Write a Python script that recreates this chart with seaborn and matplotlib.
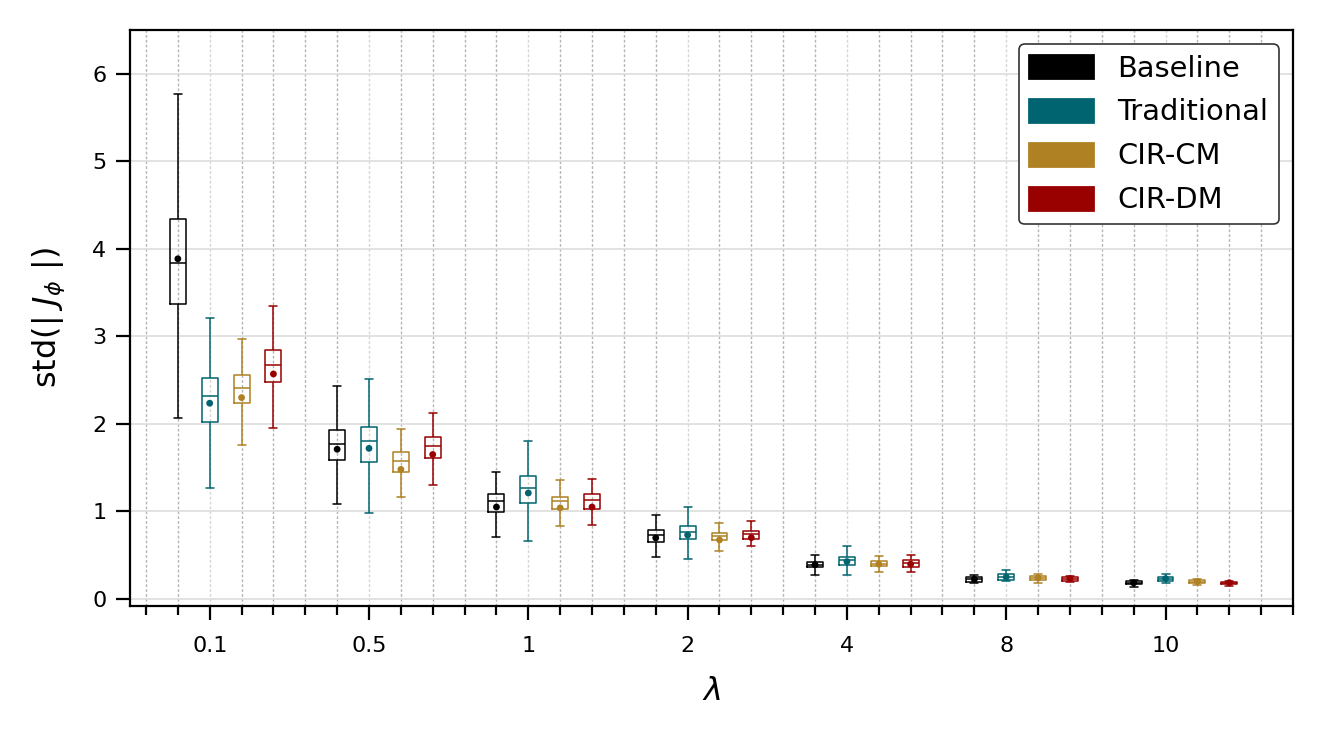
import numpy as np
import pandas as pd
import matplotlib
matplotlib.use("Agg")
import matplotlib.pyplot as plt
from matplotlib.patches import Patch
from matplotlib.ticker import MultipleLocator
import seaborn as sns

# ==========================================
# dados (estatísticas de cada caixa)
# ==========================================
lambdas = ["0.1", "0.5", "1", "2", "4", "8", "10"]
metodos = ["Baseline", "Traditional", "CIR-CM", "CIR-DM"]
cores = ["#000000", "#006470", "#AF8122", "#990000"]

# Baseline
base_wlo = [2.07, 1.08, 0.705, 0.48, 0.27, 0.183, 0.14]
base_q1 = [3.37, 1.585, 0.99, 0.655, 0.36, 0.198, 0.168]
base_med = [3.84, 1.77, 1.12, 0.728, 0.393, 0.225, 0.183]
base_q3 = [4.34, 1.93, 1.20, 0.785, 0.423, 0.247, 0.20]
base_whi = [5.77, 2.43, 1.448, 0.956, 0.50, 0.274, 0.217]
base_mean = [3.886, 1.71, 1.05, 0.697, 0.39, 0.225, 0.183]

# Traditional
trad_wlo = [1.27, 0.98, 0.663, 0.454, 0.27, 0.20, 0.18]
trad_q1 = [2.02, 1.56, 1.097, 0.68, 0.393, 0.217, 0.206]
trad_med = [2.32, 1.806, 1.265, 0.77, 0.44, 0.255, 0.232]
trad_q3 = [2.52, 1.96, 1.40, 0.83, 0.476, 0.286, 0.25]
trad_whi = [3.21, 2.51, 1.80, 1.048, 0.60, 0.33, 0.28]
trad_mean = [2.236, 1.72, 1.21, 0.73, 0.427, 0.25, 0.232]

# CIR-CM
cm_wlo = [1.757, 1.16, 0.83, 0.545, 0.31, 0.186, 0.16]
cm_q1 = [2.24, 1.455, 1.025, 0.67, 0.38, 0.217, 0.183]
cm_med = [2.41, 1.57, 1.117, 0.72, 0.403, 0.24, 0.198]
cm_q3 = [2.56, 1.68, 1.16, 0.75, 0.43, 0.263, 0.213]
cm_whi = [2.97, 1.94, 1.356, 0.865, 0.488, 0.286, 0.232]
cm_mean = [2.30, 1.48, 1.04, 0.674, 0.397, 0.24, 0.198]

# CIR-DM
dm_wlo = [1.95, 1.30, 0.84, 0.606, 0.31, 0.19, 0.15]
dm_q1 = [2.48, 1.615, 1.03, 0.68, 0.37, 0.21, 0.17]
dm_med = [2.67, 1.745, 1.13, 0.743, 0.41, 0.232, 0.185]
dm_q3 = [2.84, 1.85, 1.196, 0.774, 0.44, 0.248, 0.195]
dm_whi = [3.345, 2.12, 1.37, 0.888, 0.50, 0.267, 0.21]
dm_mean = [2.57, 1.65, 1.05, 0.70, 0.397, 0.232, 0.185]

estatisticas = {
    "Baseline": (base_wlo, base_q1, base_med, base_q3, base_whi, base_mean),
    "Traditional": (trad_wlo, trad_q1, trad_med, trad_q3, trad_whi, trad_mean),
    "CIR-CM": (cm_wlo, cm_q1, cm_med, cm_q3, cm_whi, cm_mean),
    "CIR-DM": (dm_wlo, dm_q1, dm_med, dm_q3, dm_whi, dm_mean),
}

# ==========================================
# monta as tabelas: 5 pontos por caixa reproduzem os quartis exatamente
# ==========================================
passo_grupo = 5
deslocamentos = [-1, 0, 1, 2]

linhas = []
medias = []
for k, metodo in enumerate(metodos):
    wlo, q1, med, q3, whi, mean = estatisticas[metodo]
    for g in range(len(lambdas)):
        pos = g * passo_grupo + deslocamentos[k]
        for v in (wlo[g], q1[g], med[g], q3[g], whi[g]):
            linhas.append({"pos": pos, "metodo": metodo, "valor": v})
        medias.append({"pos": pos, "metodo": metodo, "valor": mean[g]})

df = pd.DataFrame(linhas)
df_medias = pd.DataFrame(medias)
paleta = dict(zip(metodos, cores))

# ==========================================
# figura
# ==========================================
sns.set_style("ticks")
plt.rcParams["font.family"] = ["DejaVu Sans"]
plt.rcParams.update({"text.color": "black", "axes.labelcolor": "black",
                     "xtick.color": "black", "ytick.color": "black"})

fig = plt.figure(figsize=(6.615, 3.69), dpi=200)
ax = fig.add_axes([0.0983, 0.179, 0.879, 0.7803])

sns.boxplot(data=df, x="pos", y="valor", hue="metodo", hue_order=metodos,
            palette=paleta, native_scale=True, dodge=False, fill=False,
            width=0.5, whis=(0, 100), linewidth=0.55, showfliers=False,
            legend=False, ax=ax)

sns.scatterplot(data=df_medias, x="pos", y="valor", hue="metodo",
                hue_order=metodos, palette=paleta, s=6, linewidth=0,
                legend=False, zorder=5, ax=ax)

ax.set_xlim(-2.5, 34)
ax.set_ylim(-0.08, 6.5)
ax.set_xticks([g * passo_grupo for g in range(len(lambdas))])
ax.set_xticklabels(lambdas)
ax.xaxis.set_minor_locator(MultipleLocator(1))
ax.set_yticks(range(0, 7))

ax.tick_params(axis="both", which="major", labelsize=8, length=5, width=0.8)
ax.tick_params(axis="x", which="major", pad=6)
ax.tick_params(axis="x", which="minor", length=3.2, width=0.8)

ax.set_axisbelow(True)
ax.grid(axis="y", which="major", color="#dddddd", linewidth=0.6, linestyle="-")
ax.grid(axis="x", which="minor", color="#b5b5b5", linewidth=0.5, linestyle=(0, (2, 1.5)))
ax.grid(axis="x", which="major", color="#d5d5d5", linewidth=0.5, linestyle=(0, (2, 1.5)))

for lado in ax.spines.values():
    lado.set_linewidth(0.8)
    lado.set_color("black")

ax.set_xlabel(r"$\lambda$", fontsize=11.5, labelpad=7)
ax.set_ylabel(r"std(| $J_\phi$ |)", fontsize=11.5, labelpad=9)

alcas = [Patch(facecolor=c, edgecolor=c, label=m) for m, c in zip(metodos, cores)]
leg = ax.legend(handles=alcas, loc="upper right", fontsize=10.4, frameon=True,
                handlelength=2.2, handleheight=0.85, labelspacing=0.55,
                handletextpad=0.85, borderpad=0.35, fancybox=True)
leg.get_frame().set_edgecolor("#333333")
leg.get_frame().set_linewidth(0.6)
leg.get_frame().set_alpha(1)

fig.savefig("out.png", dpi=200)
plt.close(fig)
